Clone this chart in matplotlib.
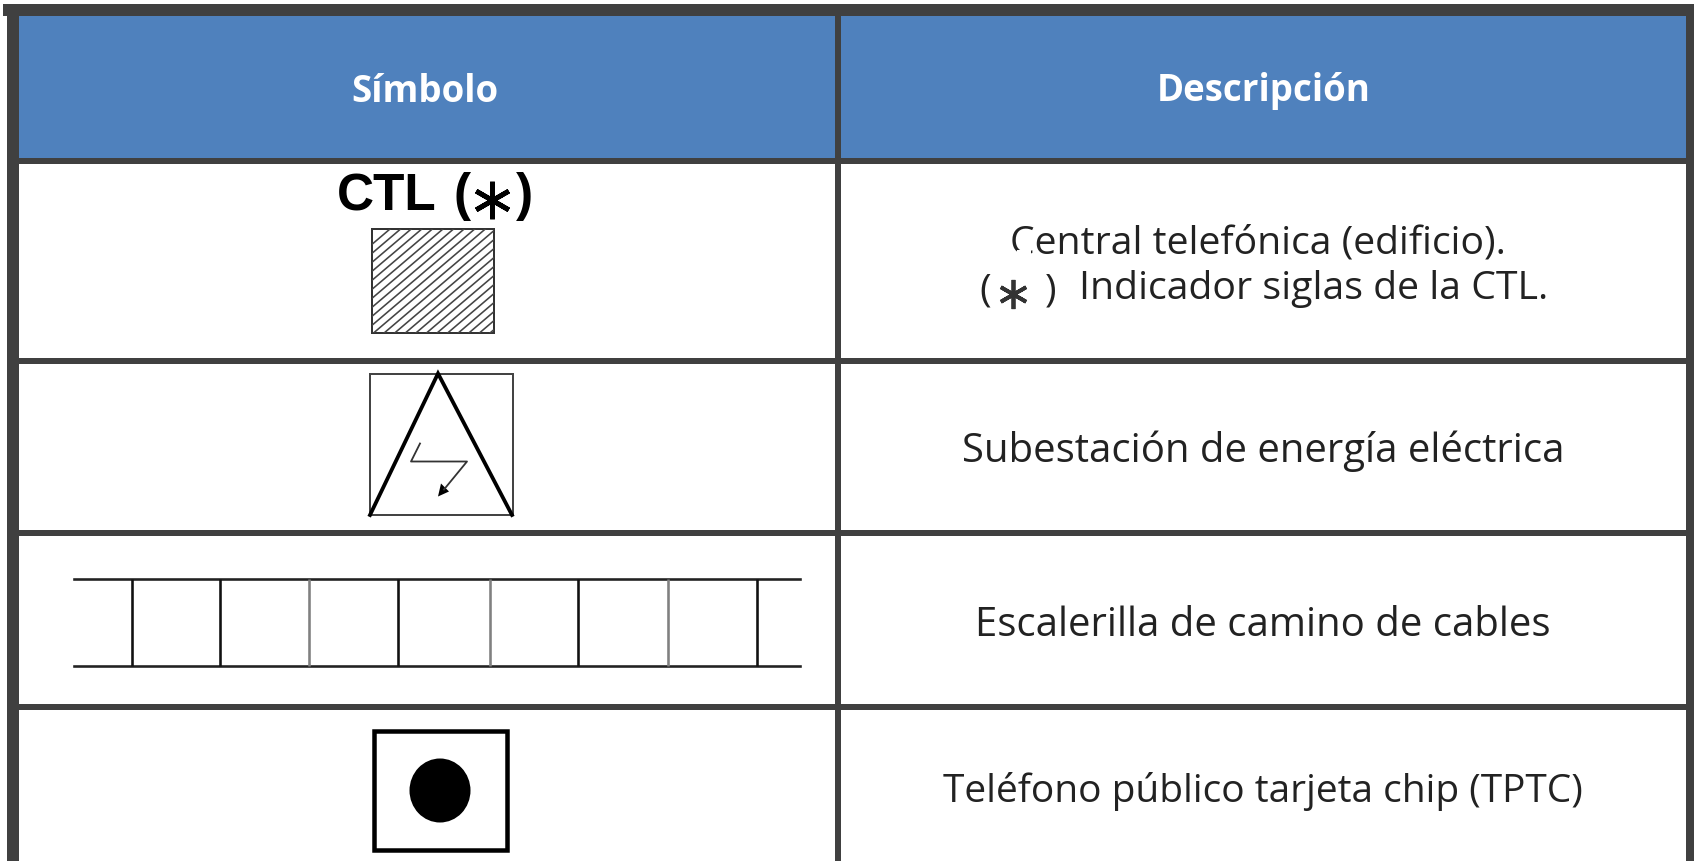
import numpy as np
import matplotlib
matplotlib.use("Agg")
import matplotlib.pyplot as plt
from matplotlib.patches import Rectangle, Ellipse, Polygon

headers = ["Símbolo", "Descripción"]
descriptions = [
    "Subestación de energía eléctrica",
    "Escalerilla de camino de cables",
    "Teléfono público tarjeta chip (TPTC)",
]
ctl_line_1 = "Central telefónica (edificio)."
ctl_line_2 = "Indicador siglas de la CTL."
ctl_label = "CTL"

row_lines = [160.5, 360.5, 532.5, 706.5]
desc_y = [450, 624, 790]
desc_size = [28.9, 28.9, 28.0]
rungs = [132, 220, 309, 398, 490, 578, 668, 757]

border = "#404040"
blue = "#4f81bd"
body_font = "Open Sans"


def px(w):
    return w * 0.72


fig = plt.figure(figsize=(16.94, 8.62), dpi=100)
ax = fig.add_axes([0, 0, 1, 1])
ax.set_xlim(0, 1694)
ax.set_ylim(860.5, -1.5)
ax.axis("off")

# table frame
ax.add_patch(Rectangle((13, 9), 825, 152, facecolor=blue, edgecolor="none"))
ax.add_patch(Rectangle((838, 9), 852, 152, facecolor=blue, edgecolor="none"))
ax.plot([3, 1694], [9, 9], color=border, lw=px(12), solid_capstyle="butt")
ax.plot([13, 13], [3, 862], color=border, lw=px(12), solid_capstyle="butt")
ax.plot([1690, 1690], [3, 862], color=border, lw=px(8), solid_capstyle="butt")
ax.plot([838, 838], [3, 862], color=border, lw=px(6), solid_capstyle="butt")
for y in row_lines:
    ax.plot([7, 1694], [y, y], color=border, lw=px(6), solid_capstyle="butt")

ax.text(425, 90, headers[0], color="white", fontsize=26.4, fontweight="bold",
        family=body_font, ha="center", va="center")
ax.text(1264, 90, headers[1], color="white", fontsize=26.4, fontweight="bold",
        family=body_font, ha="center", va="center")

# CTL symbol
ax.text(337, 196, ctl_label, fontsize=37, fontweight="bold", family="Liberation Sans",
        ha="left", va="center", color="black")
ax.text(462, 195, "(", fontsize=37, fontweight="bold", family="Liberation Sans",
        ha="center", va="center", color="black")
ax.text(524, 195, ")", fontsize=37, fontweight="bold", family="Liberation Sans",
        ha="center", va="center", color="black")
ax.plot([492], [199], marker=(6, 2, 0), markersize=27, mew=px(4.8), color="black")

box = Rectangle((372, 228), 122, 104, facecolor="white", edgecolor="#333333", lw=px(2), zorder=3)
ax.add_patch(box)
for c in np.arange(560, 860, 9):
    ln, = ax.plot([340, 530], [c - 0.85 * 340, c - 0.85 * 530], color="#444444", lw=px(1.6), zorder=4)
    ln.set_clip_path(box)

# substation symbol
ax.add_patch(Rectangle((370, 373.5), 143, 141, facecolor="none", edgecolor="#444444", lw=px(2)))
ax.plot([370, 438, 512], [514.5, 373, 514.5], color="black", lw=px(3.8), solid_joinstyle="miter")
ax.plot([420, 411, 467, 444], [443, 461, 461, 489], color="#333333", lw=px(1.8))
ax.add_patch(Polygon([[438, 496], [441, 483], [449, 491]], facecolor="black", edgecolor="none"))

# ladder symbol
ax.plot([74, 800], [578.5, 578.5], color="#222222", lw=px(2.6))
ax.plot([74, 800], [665.5, 665.5], color="#222222", lw=px(2.6))
for i, x in enumerate(rungs):
    col = "#808080" if i in (2, 4, 6) else "#111111"
    ax.plot([x, x], [578.5, 665.5], color=col, lw=px(2.6), solid_capstyle="butt")

# public phone symbol
ax.add_patch(Rectangle((374, 730.5), 133, 119, facecolor="white", edgecolor="black", lw=px(4.5)))
ax.add_patch(Ellipse((440, 790), 61, 64, facecolor="black", edgecolor="none"))

# descriptions
ax.text(1258, 242, ctl_line_1, fontsize=28.2, family=body_font,
        ha="center", va="center", color="#222222")
ax.add_patch(Rectangle((1017, 249), 14, 9, facecolor="white", edgecolor="none", zorder=5))
ax.text(1079, 288, ctl_line_2, fontsize=28.3, family=body_font,
        ha="left", va="center", color="#222222")
ax.text(985, 290, "(", fontsize=28.3, family=body_font,
        ha="center", va="center", color="#222222")
ax.text(1051, 290, ")", fontsize=28.3, family=body_font,
        ha="center", va="center", color="#222222")
ax.plot([1013], [293], marker=(6, 2, 0), markersize=21, mew=px(3.8), color="#333333")
for label, y, s in zip(descriptions, desc_y, desc_size):
    ax.text(1263, y, label, fontsize=s, family=body_font,
            ha="center", va="center", color="#222222")

fig.savefig("out.png", dpi=100)
